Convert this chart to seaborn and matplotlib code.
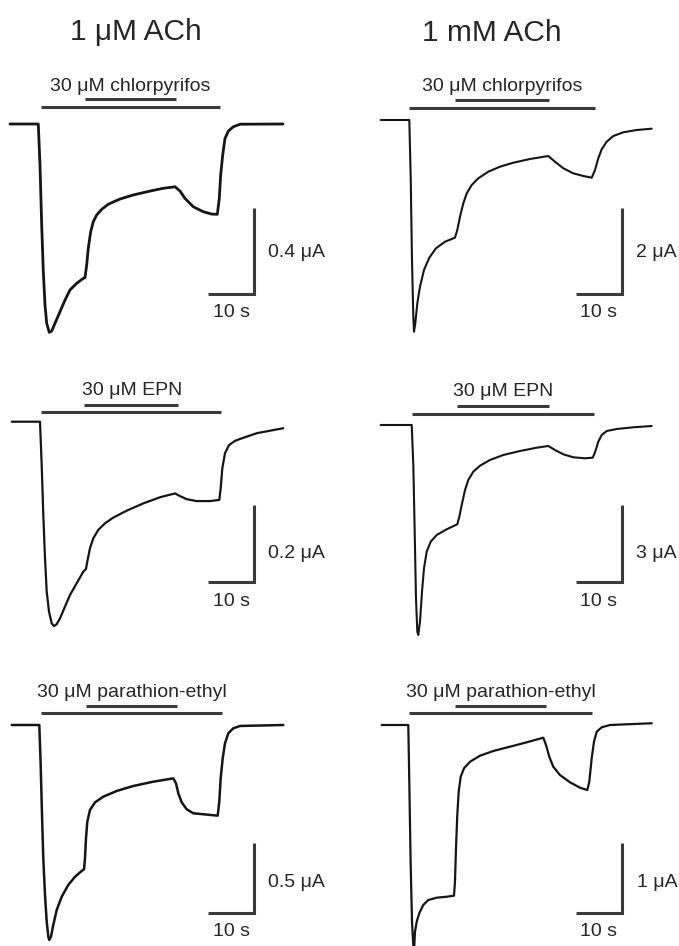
import numpy as np
import pandas as pd
import matplotlib
matplotlib.use("Agg")
import matplotlib.pyplot as plt
import seaborn as sns

# ---------------- data ----------------
col_titles = ["1 μM ACh", "1 mM ACh"]
drug_labels = ["30 μM chlorpyrifos", "30 μM EPN", "30 μM parathion-ethyl"]
scale_uA = [0.4, 2, 0.2, 3, 0.5, 1]          # vertical scale bars (µA), panels A-F
scale_s = 10                                  # horizontal scale bar (s)

# ACh application (long bar) and OP application (short bar), seconds
ach_on = [6.74, 6.15, 6.37, 6.74, 6.30, 6.00]
ach_off = [45.65, 46.59, 45.50, 46.37, 45.65, 45.65]
op_on = [16.30, 16.15, 15.72, 16.52, 16.15, 15.93]
op_off = [36.09, 36.59, 36.22, 36.61, 35.87, 35.65]

# Panel A: 1 µM ACh, chlorpyrifos  (time s, current µA)
t_A = [0.0, 6.15, 6.52, 6.89, 7.24, 7.61, 7.98, 8.54, 9.07, 9.78, 10.87, 11.96, 13.04, 14.50, 15.93,
       16.30, 16.67, 17.02, 17.54, 18.11, 18.85, 19.93, 21.37, 23.91, 26.80, 30.43, 33.33, 35.87,
       36.96, 38.04, 39.85, 42.02, 43.85, 45.07, 45.50, 45.80, 46.24, 46.74, 47.46, 48.54, 50.00, 59.35]
i_A = [0.0, 0.0, -0.191, -0.470, -0.687, -0.842, -0.927, -0.969, -0.963, -0.927, -0.873, -0.819,
       -0.772, -0.741, -0.718, -0.715, -0.656, -0.578, -0.501, -0.454, -0.423, -0.397, -0.373, -0.349,
       -0.330, -0.312, -0.299, -0.292, -0.312, -0.346, -0.385, -0.408, -0.419, -0.420, -0.346, -0.237,
       -0.144, -0.067, -0.033, -0.013, -0.001, 0.0]
# Panel B: 1 mM ACh, chlorpyrifos
t_B = [0.0, 6.22, 6.52, 6.80, 7.09, 7.24, 7.52, 7.96, 8.54, 9.41, 10.57, 12.02, 13.98, 16.15, 16.65,
       17.24, 17.96, 18.70, 19.78, 21.22, 23.39, 25.93, 28.83, 32.46, 36.43, 37.89, 39.70, 41.87, 44.04,
       45.87, 46.59, 47.30, 48.04, 49.13, 50.57, 52.74, 55.65, 58.91]
i_B = [0.0, 0.0, -1.319, -3.256, -4.574, -4.923, -4.728, -4.263, -3.877, -3.488, -3.202, -2.984,
       -2.830, -2.737, -2.558, -2.249, -1.937, -1.705, -1.512, -1.356, -1.202, -1.086, -0.993, -0.907,
       -0.837, -0.970, -1.123, -1.240, -1.302, -1.342, -1.163, -0.891, -0.681, -0.505, -0.372, -0.286,
       -0.233, -0.202]
# Panel C: 1 µM ACh, EPN
t_C = [0.0, 6.15, 6.52, 6.87, 7.24, 7.61, 8.11, 8.70, 9.20, 9.78, 10.50, 11.59, 12.67, 14.13, 15.57,
       16.15, 16.43, 17.02, 17.74, 18.83, 20.28, 22.09, 25.00, 28.61, 32.24, 35.50, 36.59, 38.04, 40.22,
       43.11, 45.13, 45.43, 45.78, 46.37, 47.24, 48.54, 49.63, 53.26, 59.04]
i_C = [0.0, 0.0, -0.113, -0.243, -0.356, -0.443, -0.495, -0.526, -0.533, -0.528, -0.513, -0.482,
       -0.452, -0.421, -0.391, -0.384, -0.365, -0.330, -0.304, -0.282, -0.265, -0.250, -0.232, -0.213,
       -0.197, -0.187, -0.194, -0.202, -0.207, -0.207, -0.204, -0.174, -0.122, -0.082, -0.061, -0.050,
       -0.045, -0.030, -0.017]
# Panel D: 1 mM ACh, EPN
t_D = [0.0, 6.74, 7.09, 7.39, 7.67, 7.96, 8.17, 8.54, 8.98, 9.41, 10.00, 10.87, 12.17, 14.35, 16.65,
       17.09, 17.61, 18.33, 19.04, 20.13, 21.59, 23.76, 26.65, 30.28, 33.91, 36.43, 37.89, 39.70, 41.87,
       44.41, 46.09, 46.59, 47.30, 48.04, 49.13, 51.30, 54.91, 58.91]
i_D = [0.0, 0.0, -1.564, -4.173, -6.777, -8.084, -8.213, -7.693, -6.519, -5.604, -4.955, -4.564,
       -4.302, -4.079, -3.883, -3.586, -3.129, -2.542, -2.151, -1.826, -1.592, -1.369, -1.173, -1.017,
       -0.888, -0.821, -0.978, -1.146, -1.263, -1.302, -1.279, -1.068, -0.653, -0.391, -0.235, -0.156,
       -0.090, -0.039]
# Panel E: 1 µM ACh, parathion-ethyl
t_E = [0.0, 6.00, 6.30, 6.59, 6.87, 7.24, 7.61, 7.96, 8.17, 8.54, 9.04, 9.78, 10.87, 12.30, 13.76,
       15.22, 15.72, 15.93, 16.15, 16.43, 17.02, 18.11, 19.91, 22.83, 26.43, 30.78, 35.13, 35.72, 36.22,
       36.96, 38.04, 39.48, 41.65, 44.78, 45.13, 45.43, 45.87, 46.37, 47.09, 48.17, 49.63, 59.04]
i_E = [0.0, 0.0, -0.289, -0.649, -0.962, -1.227, -1.419, -1.527, -1.551, -1.527, -1.443, -1.335,
       -1.239, -1.154, -1.095, -1.053, -1.041, -0.962, -0.817, -0.698, -0.613, -0.558, -0.517, -0.476,
       -0.440, -0.409, -0.385, -0.421, -0.493, -0.558, -0.608, -0.637, -0.644, -0.654, -0.553, -0.385,
       -0.240, -0.132, -0.060, -0.024, -0.007, 0.0]
# Panel F: 1 mM ACh, parathion-ethyl (peak runs past the bottom edge)
t_F = [0.0, 5.78, 6.00, 6.30, 6.59, 6.98, 7.24, 7.61, 8.17, 9.04, 10.13, 11.96, 14.13, 15.72, 15.93,
       16.15, 16.43, 16.74, 17.17, 17.89, 19.20, 21.37, 24.26, 27.89, 31.52, 35.13, 35.72, 36.43, 37.30,
       38.76, 40.93, 43.11, 44.70, 45.13, 45.65, 46.15, 46.74, 47.83, 49.63, 54.70, 58.70]
i_F = [0.0, 0.0, -0.818, -2.020, -2.838, -3.319, -2.983, -2.838, -2.717, -2.597, -2.525, -2.492,
       -2.478, -2.463, -2.261, -1.779, -1.299, -0.962, -0.746, -0.625, -0.530, -0.443, -0.375, -0.313,
       -0.250, -0.183, -0.289, -0.457, -0.602, -0.722, -0.827, -0.905, -0.938, -0.818, -0.481, -0.241,
       -0.097, -0.033, 0.0, 0.014, 0.025]

traces_t = [t_A, t_B, t_C, t_D, t_E, t_F]
traces_i = [i_A, i_B, i_C, i_D, i_E, i_F]

# ---------------- layout (pixels) ----------------
W, H = 679, 946
PPS = 4.6  # pixels per second
layout = [
    dict(box=(0, 45, 340, 340), origin=(10.0, 124.0), bar_px=86.0, long_y=107, short_y=99,
         label=(130, 90.7), corner=(254, 294), vlab=(268, 256.7), hlab=(231.7, 316.7), lw=2.0),
    dict(box=(340, 45, 679, 340), origin=(380.7, 120.0), bar_px=86.0, long_y=108, short_y=100,
         label=(502, 90.7), corner=(621.7, 294), vlab=(636, 256.7), hlab=(598.3, 316.7), lw=1.5),
    dict(box=(0, 340, 340, 640), origin=(11.7, 421.7), bar_px=76.7, long_y=412.3, short_y=405,
         label=(131.7, 395), corner=(254, 581.7), vlab=(268, 558.3), hlab=(231.7, 606), lw=1.6),
    dict(box=(340, 340, 679, 640), origin=(380.7, 425.0), bar_px=76.7, long_y=414, short_y=406,
         label=(503.3, 396), corner=(621.7, 581.7), vlab=(636, 558.3), hlab=(598.3, 606), lw=1.5),
    dict(box=(0, 640, 340, 946), origin=(11.7, 725.0), bar_px=69.3, long_y=712.7, short_y=705.7,
         label=(131.7, 696.7), corner=(254, 912.7), vlab=(268, 887.3), hlab=(231.7, 936), lw=1.8),
    dict(box=(340, 640, 679, 946), origin=(381.7, 725.0), bar_px=69.3, long_y=712.7, short_y=705.7,
         label=(500.5, 696.7), corner=(621.7, 912.7), vlab=(636.7, 887.3), hlab=(598.3, 936), lw=1.6),
]
title_pos = [(136, 40), (492, 41)]

sns.set_theme(style="white")
plt.rcParams['font.family'] = ['Liberation Sans', 'DejaVu Sans']

TRACE_C = "#151515"
BAR_C = "#3a3a3a"
TEXT_C = "#262626"
BAR_LW = 2.2

fig = plt.figure(figsize=(W / 100, H / 100), dpi=100)
fig.patch.set_facecolor("white")


def ftext(px, py, s, **kw):
    fig.text(px / W, 1 - py / H, s, color=TEXT_C, **kw)


for k, p in enumerate(layout):
    L, T, R, B = p['box']
    ax = fig.add_axes([L / W, 1 - B / H, (R - L) / W, (B - T) / H])
    x0, y0 = p['origin']
    ppa = p['bar_px'] / scale_uA[k]
    df = pd.DataFrame({'t': traces_t[k], 'i': traces_i[k]})
    sns.lineplot(data=df, x='t', y='i', ax=ax, color=TRACE_C, linewidth=p['lw'],
                 estimator=None, sort=False, legend=False,
                 solid_joinstyle='round', solid_capstyle='round')
    ax.set_xlim((L - x0) / PPS, (R - x0) / PPS)
    ax.set_ylim((y0 - B) / ppa, (y0 - T) / ppa)
    ax.axis('off')

    def yd(py):
        return (y0 - py) / ppa

    def xd(px):
        return (px - x0) / PPS

    # application bars
    ax.plot([ach_on[k], ach_off[k]], [yd(p['long_y'])] * 2, color=BAR_C, lw=BAR_LW,
            solid_capstyle='butt', clip_on=False)
    ax.plot([op_on[k], op_off[k]], [yd(p['short_y'])] * 2, color=BAR_C, lw=BAR_LW,
            solid_capstyle='butt', clip_on=False)
    # scale bars
    cx, cy = xd(p['corner'][0]), yd(p['corner'][1])
    ax.plot([cx - scale_s, cx, cx], [cy, cy, cy + scale_uA[k]], color=BAR_C, lw=BAR_LW,
            solid_capstyle='butt', solid_joinstyle='miter', clip_on=False)

    ftext(*p['label'], drug_labels[k // 2], fontsize=14, ha='center', va='baseline')
    ftext(*p['vlab'], f"{scale_uA[k]:g} μA", fontsize=14, ha='left', va='baseline')
    ftext(*p['hlab'], f"{scale_s} s", fontsize=14, ha='center', va='baseline')

for (px, py), s in zip(title_pos, col_titles):
    ftext(px, py, s, fontsize=21.5, ha='center', va='baseline')

fig.savefig("out.png", dpi=100, facecolor="white")
